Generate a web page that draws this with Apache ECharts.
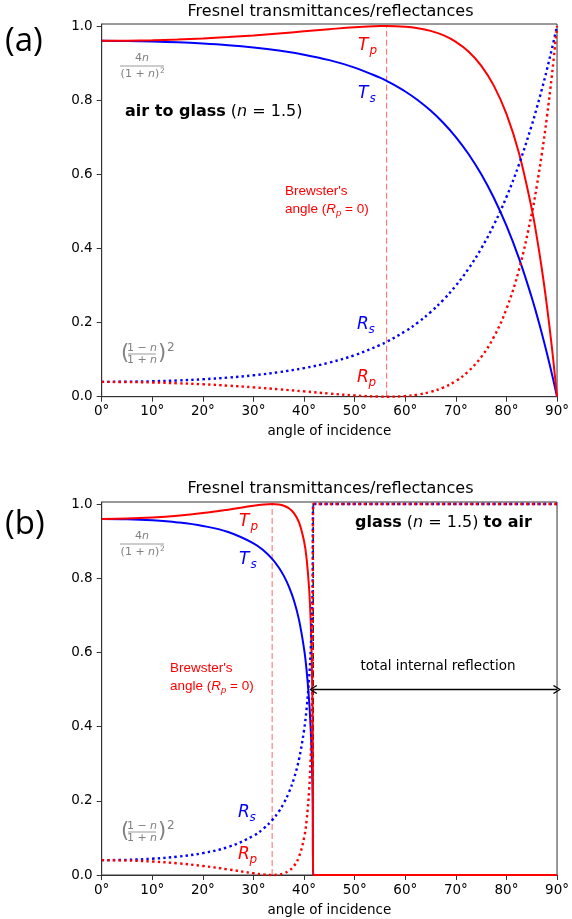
<!DOCTYPE html>
<html><head><meta charset="utf-8">
<script src="https://cdn.jsdelivr.net/npm/echarts@6/dist/echarts.min.js"></script>
<style>html,body{margin:0;padding:0;background:#fff}#c{width:572px;height:919px}</style>
</head><body><div id="c"></div>
<script>
// ---- data ----
const xTicks = [0,10,20,30,40,50,60,70,80,90];
const yTicks = [0,0.2,0.4,0.6,0.8,1.0];
const yTickLabels = ['0.0','0.2','0.4','0.6','0.8','1.0'];

// (a) air to glass, n = 1.5
const anglesA = [0,5,10,15,20,25,30,35,40,45,50,55,56.31,60,62.5,65,67.5,70,72.5,75,77.5,80,82.5,85,86,87,88,89,90];
const RsA = [0.0400,0.0404,0.0417,0.0438,0.0471,0.0516,0.0578,0.0661,0.0772,0.0920,0.1121,0.1393,0.1479,0.1766,0.2002,0.2281,0.2609,0.2996,0.3453,0.3994,0.4632,0.5386,0.6276,0.7323,0.7793,0.8293,0.8826,0.9395,1.0000];
const TsA = [0.9600,0.9596,0.9583,0.9562,0.9529,0.9484,0.9422,0.9339,0.9228,0.9080,0.8879,0.8607,0.8521,0.8234,0.7998,0.7719,0.7391,0.7004,0.6547,0.6006,0.5368,0.4614,0.3724,0.2677,0.2207,0.1707,0.1174,0.0605,0.0000];
const RpA = [0.0400,0.0396,0.0384,0.0363,0.0335,0.0298,0.0253,0.0200,0.0143,0.0085,0.0033,0.0002,0.0000,0.0018,0.0058,0.0130,0.0247,0.0425,0.0688,0.1068,0.1607,0.2368,0.3436,0.4932,0.5688,0.6555,0.7548,0.8689,1.0000];
const TpA = [0.9600,0.9604,0.9616,0.9637,0.9665,0.9702,0.9747,0.9800,0.9857,0.9915,0.9967,0.9998,1.0000,0.9982,0.9942,0.9870,0.9753,0.9575,0.9312,0.8932,0.8393,0.7632,0.6564,0.5068,0.4312,0.3445,0.2452,0.1311,0.0000];
const brewsterA = 56.31;

// (b) glass (n = 1.5) to air
const anglesB = [0,5,10,15,20,25,30,32,33.69,35,36,37,38,39,40,40.5,41,41.3,41.5,41.7,41.81,50,60,70,80,90];
const RsB = [0.0400,0.0409,0.0439,0.0495,0.0591,0.0755,0.1058,0.1254,0.1479,0.1711,0.1937,0.2224,0.2600,0.3122,0.3905,0.4483,0.5310,0.6040,0.6751,0.7910,1,1,1,1,1,1];
const RpB = [0.0400,0.0391,0.0363,0.0315,0.0244,0.0151,0.0046,0.0013,0.0000,0.0012,0.0045,0.0113,0.0243,0.0492,0.1001,0.1473,0.2285,0.3136,0.4082,0.5886,1,1,1,1,1,1];
const TsB = [0.9600,0.9591,0.9561,0.9505,0.9409,0.9245,0.8942,0.8746,0.8521,0.8289,0.8063,0.7776,0.7400,0.6878,0.6095,0.5517,0.4690,0.3960,0.3249,0.2090,0,0,0,0,0,0];
const TpB = [0.9600,0.9609,0.9637,0.9685,0.9756,0.9849,0.9954,0.9987,1.0000,0.9988,0.9955,0.9887,0.9757,0.9508,0.8999,0.8527,0.7715,0.6864,0.5918,0.4114,0,0,0,0,0,0];
const brewsterB = 33.69;
const criticalB = 41.81;
const tirLevel = 0.5;

// ---- chart ----
const RED = '#ff0000', BLUE = '#0000ff', GRAY = '#808080';
const FONT = '"DejaVu Sans", sans-serif';
const chart = echarts.init(document.getElementById('c'), null, {renderer:'canvas'});
const pairs = (xs, ys) => xs.map((x,i)=>[x, ys[i]]);

function xAx(gi){
  return {gridIndex:gi, type:'value', min:0, max:90, interval:10,
    axisLine:{show:true, lineStyle:{color:'#333', width:1}},
    axisTick:{show:true, inside:false, length:5, lineStyle:{color:'#333'}},
    axisLabel:{formatter:'{value}°', fontSize:13.5, fontFamily:FONT, color:'#000', margin:8},
    splitLine:{show:false},
    name:'angle of incidence', nameLocation:'middle', nameGap:28,
    nameTextStyle:{fontSize:13.5, fontFamily:FONT, color:'#000'}};
}
function yAx(gi){
  return {gridIndex:gi, type:'value', min:0, max:1.0055,
    axisLine:{show:true, lineStyle:{color:'#333', width:1}},
    axisTick:{show:true, length:5, customValues:yTicks, lineStyle:{color:'#333'}},
    axisLabel:{customValues:yTicks, formatter:v=>yTickLabels[yTicks.findIndex(t=>Math.abs(t-v)<1e-6)] || '',
      fontSize:13.5, fontFamily:FONT, color:'#000', margin:9},
    splitLine:{show:false}};
}
function curve(gi, xs, ys, color, dotted, z){
  return {type:'line', xAxisIndex:gi, yAxisIndex:gi, data:pairs(xs,ys), showSymbol:false, symbol:'none',
    smooth:0.4, clip:false, z:z, animation:false,
    lineStyle:{color:color, width: dotted ? 2.4 : 2, type: dotted ? [2.4,3.2] : 'solid', cap:'butt'}};
}
function vline(gi, x, color, opacity, width, dash, z){
  return {type:'line', xAxisIndex:gi, yAxisIndex:gi, data:[[x,0],[x,1]], showSymbol:false, symbol:'none',
    clip:false, z:z, animation:false, lineStyle:{color:color, opacity:opacity, width:width, type:dash}};
}
const chevron = 'path://M5,0 L10,8 L9,9 L5,2.4 L1,9 L0,8 Z';

const series = [
  curve(0, anglesA, TsA, BLUE, false, 3),
  curve(0, anglesA, TpA, RED, false, 3),
  curve(0, anglesA, RsA, BLUE, true, 3),
  curve(0, anglesA, RpA, RED, true, 3),
  vline(0, brewsterA, RED, 0.55, 1.1, [6,3], 2),
  curve(1, anglesB, TsB, BLUE, false, 3),
  curve(1, anglesB, TpB, RED, false, 3),
  curve(1, anglesB, RsB, BLUE, true, 3),
  curve(1, anglesB, RpB, RED, true, 4),
  vline(1, brewsterB, RED, 0.55, 1.1, [6,3], 2),
  Object.assign(vline(1, criticalB, '#000', 0.85, 1.6, [6,3], 2), {
    markLine:{silent:true, animation:false, symbol:[chevron, chevron], symbolSize:[9,8],
      label:{show:false}, lineStyle:{color:'#000', width:1.3, type:'solid', opacity:1},
      data:[[{coord:[criticalB, tirLevel]},{coord:[90, tirLevel]}]]}
  })
];

// ---- annotations ----
const G = [];
function t(x,y,text,o){
  o = o || {};
  G.push({type:'text', x:x, y:y, z:100, silent:true, style:Object.assign({text:text, fill:o.fill||'#000',
    fontSize:o.size||13.5, fontFamily:o.family||FONT, fontStyle:o.italic?'italic':'normal',
    fontWeight:o.bold?'bold':'normal', align:o.align||'left', verticalAlign:o.va||'middle'}, o.extra||{})});
}
function sym(x,y,base,sub,color){
  t(x,y,base,{fill:color, size:17, italic:true});
  t(x+11.5,y+5,sub,{fill:color, size:12, italic:true});
}
function hline(x1,x2,y,color){
  G.push({type:'line', z:100, silent:true, shape:{x1:x1,y1:y,x2:x2,y2:y}, style:{stroke:color, lineWidth:0.8}});
}
const gRich = {r:{fontSize:11, fontFamily:FONT, fill:GRAY}, i:{fontSize:11, fontFamily:FONT, fontStyle:'italic', fill:GRAY}};
function fracT(cx, y){ // 4n/(1+n)^2
  t(cx, y-8, '{r|4}{i|n}', {fill:GRAY, size:11, align:'center', extra:{rich:gRich}});
  hline(cx-22, cx+22, y, GRAY);
  t(cx-2, y+8, '{r|(1 + }{i|n}{r|)}', {fill:GRAY, size:11, align:'center', extra:{rich:gRich}});
  t(cx+18, y+5, '2', {fill:GRAY, size:7.5});
}
function fracR(x, y){ // ((1-n)/(1+n))^2
  t(x+1, y, '(', {fill:GRAY, size:21});
  t(x+22, y-6, '{r|1 − }{i|n}', {fill:GRAY, size:10.5, align:'center', extra:{rich:gRich}});
  hline(x+8, x+36, y, GRAY);
  t(x+22, y+6, '{r|1 + }{i|n}', {fill:GRAY, size:10.5, align:'center', extra:{rich:gRich}});
  t(x+38, y, ')', {fill:GRAY, size:21});
  t(x+47, y-6, '2', {fill:GRAY, size:12});
}
const brewRich = {i:{fontStyle:'italic', fontSize:13.5, fill:RED, lineHeight:18, verticalAlign:'middle'},
  s:{fontStyle:'italic', fontSize:9.5, fill:RED, lineHeight:10, verticalAlign:'bottom'},
  n:{fontSize:13.5, fill:RED, lineHeight:18, verticalAlign:'middle'}};
function brewster(x,y){
  t(x, y, "{n|Brewster's}\n{n|angle (}{i|R}{s|p}{n| = 0)}", {fill:RED, va:'top', extra:{rich:brewRich}});
}
const boldRich = {b:{fontWeight:'bold', fontSize:16, fontFamily:FONT, fill:'#000'},
  r:{fontSize:16, fontFamily:FONT, fill:'#000'},
  i:{fontSize:16, fontFamily:FONT, fontStyle:'italic', fill:'#000'}};

// panel (a)
t(5, 42, '(a)', {size:33, family:'"Open Sans", "Liberation Sans", sans-serif'});
t(330.5, 12, 'Fresnel transmittances/reflectances', {size:16, align:'center'});
sym(358, 46, 'T', 'p', RED);
sym(358, 94, 'T', 's', BLUE);
sym(357, 325, 'R', 's', BLUE);
sym(357, 378, 'R', 'p', RED);
fracT(142, 66);
fracR(120, 354);
t(125, 112, '{b|air to glass}{r| (}{i|n}{r| = 1.5)}', {extra:{rich:boldRich}});
brewster(285, 182);

// panel (b)
t(5, 525, '(b)', {size:33, family:'"Open Sans", "Liberation Sans", sans-serif'});
t(330.5, 489, 'Fresnel transmittances/reflectances', {size:16, align:'center'});
sym(239, 522, 'T', 'p', RED);
sym(239, 560, 'T', 's', BLUE);
sym(238, 813, 'R', 's', BLUE);
sym(238, 855, 'R', 'p', RED);
fracT(142, 544);
fracR(120, 832);
t(355, 523, '{b|glass}{r| (}{i|n}{r| = 1.5) }{b|to air}', {extra:{rich:boldRich}});
brewster(170, 659);
t(438, 666, 'total internal reflection', {size:13.5, align:'center'});

chart.setOption({
  animation:false,
  backgroundColor:'#fff',
  grid:[
    {left:101.7, right:12.7, top:24, height:372.7, show:true, borderColor:'#333', borderWidth:1, backgroundColor:'transparent'},
    {left:101.7, right:12.7, top:502, height:373, show:true, borderColor:'#333', borderWidth:1, backgroundColor:'transparent'}
  ],
  xAxis:[xAx(0), xAx(1)],
  yAxis:[yAx(0), yAx(1)],
  series:series,
  graphic:G
});
</script></body></html>
